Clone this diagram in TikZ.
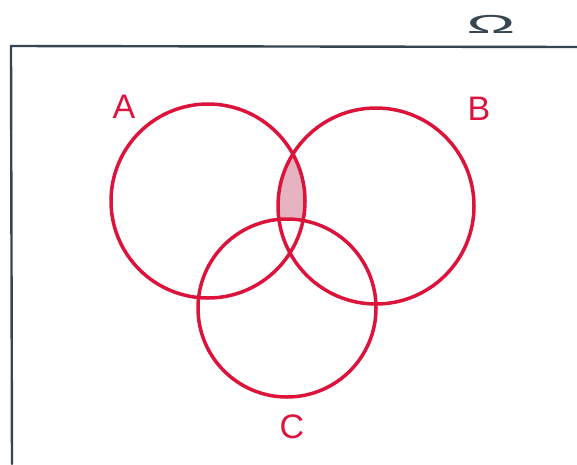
\documentclass[tikz,border=0pt]{standalone}
\usepackage{fontspec}
\setmainfont{Liberation Sans}
\definecolor{vred}{HTML}{DC143C}
\definecolor{vpink}{HTML}{E6B3C1}
\definecolor{slate}{HTML}{36454F}
\begin{document}
\begin{tikzpicture}[x=1pt,y=-1pt,
  setline/.style={draw=vred,line width=3.5pt},
  setlabel/.style={text=vred,font=\fontsize{34}{34}\selectfont},
  framestyle/.style={draw=slate,line width=2.4pt,line cap=round,line join=round}]
\useasboundingbox (0,0) rectangle (577,464);
\fill[white] (0,0) rectangle (577,464);
% frame
\draw[framestyle] (12,464) -- (11,46) -- (577,47);
\node[text=slate,font=\fontsize{26}{26}\selectfont,xscale=2.5,yscale=1,transform shape] (omega) at (491,24) {Ω};
% shaded region A and B minus C
\begin{scope}
  \clip (208,201) circle (97);
  \clip (376,206) circle (98);
  \fill[vpink,even odd rule] (287,308) circle (89) (0,0) rectangle (577,464);
\end{scope}
% circles
\draw[setline] (208,201) circle (97);
\draw[setline] (376,206) circle (98);
\draw[setline] (287,308) circle (89);
% labels
\node[setlabel] (la) at (124,107) {A};
\node[setlabel] (lb) at (479,109) {B};
\node[setlabel] (lc) at (292,427) {C};
\end{tikzpicture}
\end{document}
